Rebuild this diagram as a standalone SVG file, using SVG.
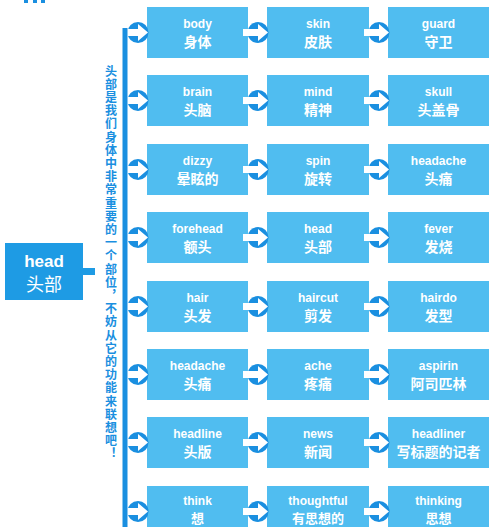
<svg xmlns="http://www.w3.org/2000/svg" xmlns:xlink="http://www.w3.org/1999/xlink" width="500" height="527" viewBox="0 0 500 527">
<style>
.box{fill:#50bdf0}
.en{font-family:"Liberation Sans",Arial,sans-serif;font-weight:bold;font-size:12px;fill:#fff;text-anchor:middle}
.zh{font-family:"Noto Sans CJK SC","Noto Sans",sans-serif;font-weight:bold;font-size:14px;fill:#fff;text-anchor:middle}
.side{font-family:"Noto Sans CJK SC",sans-serif;font-weight:bold;font-size:12px;fill:#1a8fe0;letter-spacing:1.2px}
</style>
<defs>
<g id="arr"><circle r="10.5" fill="#1a8fe0"/><path d="M-15,-3.5H0V-8.5L10,0L0,8.5V3.5H-15Z" fill="#fff"/></g>
</defs>
<rect width="500" height="527" fill="#fff"/>
<path d="M24,0h4v3h-4zM33,0h4v3h-4zM41,0h4v3h-4z" fill="#1a8fe0"/>
<g id="head">
<rect x="5" y="243" width="78" height="57" fill="#1e9be4"/>
<text x="44" y="267" class="en" style="font-size:17px">head</text>
<text x="44" y="291" class="zh" style="font-size:18px;font-weight:normal">头部</text>
</g>
<text class="side" x="111" y="65" writing-mode="vertical-rl" style="writing-mode:vertical-rl">头部是我们身体中非常重要的一个部位，不妨从它的功能来联想吧！</text>
<g id="r0">
<g id="n-body"><rect class="box" x="147" y="7" width="101" height="51"/><text class="en" x="197.5" y="28">body</text><text class="zh" x="197.5" y="47">身体</text></g>
<g id="n-skin"><rect class="box" x="267" y="7" width="102" height="51"/><text class="en" x="318" y="28">skin</text><text class="zh" x="318" y="47">皮肤</text></g>
<g id="n-guard"><rect class="box" x="388" y="7" width="101" height="51"/><text class="en" x="438.5" y="28">guard</text><text class="zh" x="438.5" y="47">守卫</text></g>
</g>
<g id="r1">
<g id="n-brain"><rect class="box" x="147" y="75" width="101" height="51"/><text class="en" x="197.5" y="96">brain</text><text class="zh" x="197.5" y="115">头脑</text></g>
<g id="n-mind"><rect class="box" x="267" y="75" width="102" height="51"/><text class="en" x="318" y="96">mind</text><text class="zh" x="318" y="115">精神</text></g>
<g id="n-skull"><rect class="box" x="388" y="75" width="101" height="51"/><text class="en" x="438.5" y="96">skull</text><text class="zh" x="438.5" y="115">头盖骨</text></g>
</g>
<g id="r2">
<g id="n-dizzy"><rect class="box" x="147" y="144" width="101" height="51"/><text class="en" x="197.5" y="165">dizzy</text><text class="zh" x="197.5" y="184">晕眩的</text></g>
<g id="n-spin"><rect class="box" x="267" y="144" width="102" height="51"/><text class="en" x="318" y="165">spin</text><text class="zh" x="318" y="184">旋转</text></g>
<g id="n-headache1"><rect class="box" x="388" y="144" width="101" height="51"/><text class="en" x="438.5" y="165">headache</text><text class="zh" x="438.5" y="184">头痛</text></g>
</g>
<g id="r3">
<g id="n-forehead"><rect class="box" x="147" y="212" width="101" height="51"/><text class="en" x="197.5" y="233">forehead</text><text class="zh" x="197.5" y="252">额头</text></g>
<g id="n-head2"><rect class="box" x="267" y="212" width="102" height="51"/><text class="en" x="318" y="233">head</text><text class="zh" x="318" y="252">头部</text></g>
<g id="n-fever"><rect class="box" x="388" y="212" width="101" height="51"/><text class="en" x="438.5" y="233">fever</text><text class="zh" x="438.5" y="252">发烧</text></g>
</g>
<g id="r4">
<g id="n-hair"><rect class="box" x="147" y="281" width="101" height="51"/><text class="en" x="197.5" y="302">hair</text><text class="zh" x="197.5" y="321">头发</text></g>
<g id="n-haircut"><rect class="box" x="267" y="281" width="102" height="51"/><text class="en" x="318" y="302">haircut</text><text class="zh" x="318" y="321">剪发</text></g>
<g id="n-hairdo"><rect class="box" x="388" y="281" width="101" height="51"/><text class="en" x="438.5" y="302">hairdo</text><text class="zh" x="438.5" y="321">发型</text></g>
</g>
<g id="r5">
<g id="n-headache2"><rect class="box" x="147" y="349" width="101" height="51"/><text class="en" x="197.5" y="370">headache</text><text class="zh" x="197.5" y="389">头痛</text></g>
<g id="n-ache"><rect class="box" x="267" y="349" width="102" height="51"/><text class="en" x="318" y="370">ache</text><text class="zh" x="318" y="389">疼痛</text></g>
<g id="n-aspirin"><rect class="box" x="388" y="349" width="101" height="51"/><text class="en" x="438.5" y="370">aspirin</text><text class="zh" x="438.5" y="389">阿司匹林</text></g>
</g>
<g id="r6">
<g id="n-headline"><rect class="box" x="147" y="417" width="101" height="51"/><text class="en" x="197.5" y="438">headline</text><text class="zh" x="197.5" y="457">头版</text></g>
<g id="n-news"><rect class="box" x="267" y="417" width="102" height="51"/><text class="en" x="318" y="438">news</text><text class="zh" x="318" y="457">新闻</text></g>
<g id="n-headliner"><rect class="box" x="388" y="417" width="101" height="51"/><text class="en" x="438.5" y="438">headliner</text><text class="zh" x="438.5" y="457">写标题的记者</text></g>
</g>
<g id="r7">
<g id="n-think"><rect class="box" x="147" y="486" width="101" height="51"/><text class="en" x="197.5" y="505">think</text><text class="zh" x="197.5" y="523" style="font-size:13px">想</text></g>
<g id="n-thoughtful"><rect class="box" x="267" y="486" width="102" height="51"/><text class="en" x="318" y="505">thoughtful</text><text class="zh" x="318" y="523" style="font-size:13px">有思想的</text></g>
<g id="n-thinking"><rect class="box" x="388" y="486" width="101" height="51"/><text class="en" x="438.5" y="505">thinking</text><text class="zh" x="438.5" y="523" style="font-size:13px">思想</text></g>
</g>
<g id="connectors">
<rect x="83" y="268" width="12" height="7" fill="#1e9be4"/>
<use xlink:href="#arr" x="138" y="32.5"/><use xlink:href="#arr" x="258" y="32.5"/><use xlink:href="#arr" x="379" y="32.5"/>
<use xlink:href="#arr" x="138" y="100.5"/><use xlink:href="#arr" x="258" y="100.5"/><use xlink:href="#arr" x="379" y="100.5"/>
<use xlink:href="#arr" x="138" y="169.5"/><use xlink:href="#arr" x="258" y="169.5"/><use xlink:href="#arr" x="379" y="169.5"/>
<use xlink:href="#arr" x="138" y="237.5"/><use xlink:href="#arr" x="258" y="237.5"/><use xlink:href="#arr" x="379" y="237.5"/>
<use xlink:href="#arr" x="138" y="306.5"/><use xlink:href="#arr" x="258" y="306.5"/><use xlink:href="#arr" x="379" y="306.5"/>
<use xlink:href="#arr" x="138" y="374.5"/><use xlink:href="#arr" x="258" y="374.5"/><use xlink:href="#arr" x="379" y="374.5"/>
<use xlink:href="#arr" x="138" y="442.5"/><use xlink:href="#arr" x="258" y="442.5"/><use xlink:href="#arr" x="379" y="442.5"/>
<use xlink:href="#arr" x="138" y="511.5"/><use xlink:href="#arr" x="258" y="511.5"/><use xlink:href="#arr" x="379" y="511.5"/>
<rect x="122.5" y="28" width="5" height="499" fill="#1a8fe0"/>
</g>
</svg>
